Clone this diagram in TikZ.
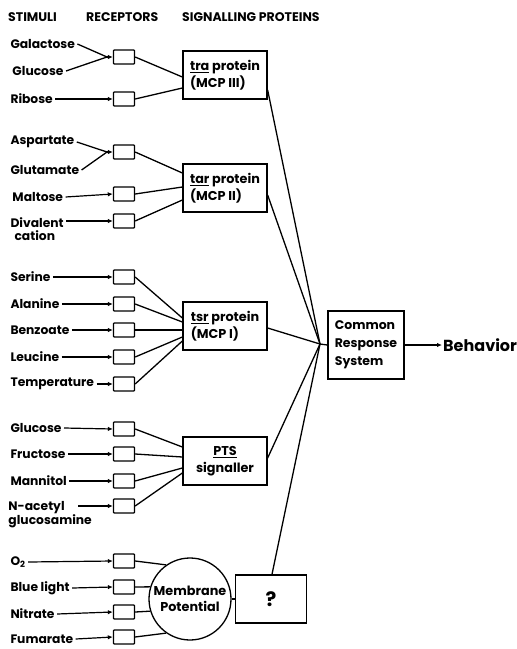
\documentclass[tikz,border=0pt]{standalone}
\usepackage{fontspec}
\setmainfont{Poppins}
\usetikzlibrary{arrows.meta,calc}
\begin{document}
\begin{tikzpicture}[x=1pt,y=-1pt,
  lbl/.style={anchor=west,inner sep=1pt,outer sep=1.5pt,font=\bfseries\fontsize{12.3}{12.3}\selectfont,align=left},
  hdr/.style={anchor=west,inner sep=0pt,font=\bfseries\fontsize{12.5}{12.5}\selectfont},
  rec/.style={draw,line width=1.3pt,minimum width=21pt,minimum height=14pt,inner sep=0pt,rounded corners=0.8pt},
  sig/.style={draw,line width=1.3pt,minimum width=84pt,minimum height=48pt,inner sep=3pt,align=left,font=\bfseries\fontsize{12.8}{16.5}\selectfont},
  arr/.style={line width=1.2pt,-{Latex[length=5pt,width=4.5pt]}},
  ln/.style={line width=1.3pt}]
\useasboundingbox (0,0) rectangle (517,649);
% headers
\node[hdr] (h1) at (8,17) {STIMULI};
\node[hdr] (h2) at (86,17) {RECEPTORS};
\node[hdr] (h3) at (182,17) {SIGNALLING PROTEINS};
% group 1
\node[lbl] (s1) at (8,44) {Galactose};
\node[lbl] (s2) at (10,71) {Glucose};
\node[lbl] (s3) at (8,99) {Ribose};
\node[rec] (r1) at (124,57) {};
\node[rec] (r2) at (124,99) {};
\coordinate (j1) at (107,57);
\node[sig] (tra) at (225,75) {\underline{tra} protein\\(MCP III)};
\draw[ln] (s1.east) -- (j1);
\draw[ln] (s2.east) -- (j1);
\draw[arr] (j1) -- (r1.west);
\draw[arr] (s3.east) -- (r2.west);
\draw[ln] (r1.east) -- ($(tra.west)+(0,2)$);
\draw[ln] (r2.east) -- ($(tra.west)+(0,13)$);
% group 2
\node[lbl] (s4) at (8,142) {Aspartate};
\node[lbl] (s5) at (8,170) {Glutamate};
\node[lbl] (s6) at (10,197) {Maltose};
\node[lbl] (s7) at (8,229) {Divalent\\\hspace*{4pt}cation};
\node[rec] (r3) at (124,152) {};
\node[rec] (r4) at (124,194) {};
\node[rec] (r5) at (124,221) {};
\coordinate (j2) at (107,152);
\node[sig] (tar) at (225,188) {\underline{tar} protein\\(MCP II)};
\draw[ln] (s4.east) -- (j2);
\draw[ln] (s5.east) -- (j2);
\draw[arr] (j2) -- (r3.west);
\draw[arr] (s6.east) -- (r4.west);
\draw[arr] (s7.east |- r5.west) -- (r5.west);
\draw[ln] (r3.east) -- ($(tar.west)+(0,-15)$);
\draw[ln] (r4.east) -- ($(tar.west)+(0,-1)$);
\draw[ln] (r5.east) -- ($(tar.west)+(0,12)$);
% group 3
\node[lbl] (s8) at (8,277) {Serine};
\node[lbl] (s9) at (8,304) {Alanine};
\node[lbl] (s10) at (8,330) {Benzoate};
\node[lbl] (s11) at (8,357) {Leucine};
\node[lbl] (s12) at (8,384) {Temperature};
\node[rec] (r6) at (124,277) {};
\node[rec] (r7) at (124,304) {};
\node[rec] (r8) at (124,330) {};
\node[rec] (r9) at (124,357) {};
\node[rec] (r10) at (124,384) {};
\node[sig] (tsr) at (225,326) {\underline{tsr} protein\\(MCP I)};
\draw[arr] (s8.east) -- (r6.west);
\draw[arr] (s9.east) -- (r7.west);
\draw[arr] (s10.east) -- (r8.west);
\draw[arr] (s11.east) -- (r9.west);
\draw[arr] (s12.east) -- (r10.west);
\draw[ln] (r6.east) -- ($(tsr.west)+(0,-8)$);
\draw[ln] (r7.east) -- ($(tsr.west)+(0,-4)$);
\draw[ln] (r8.east) -- ($(tsr.west)+(0,4)$);
\draw[ln] (r9.east) -- ($(tsr.west)+(0,11)$);
\draw[ln] (r10.east) -- ($(tsr.west)+(0,15)$);
% group 4
\node[lbl] (s13) at (8,428) {Glucose};
\node[lbl] (s14) at (8,454) {Fructose};
\node[lbl] (s15) at (8,481) {Mannitol};
\node[lbl] (s16) at (6,515) {N-acetyl\\glucosamine};
\node[rec] (r11) at (124,429) {};
\node[rec] (r12) at (124,454) {};
\node[rec] (r13) at (124,481) {};
\node[rec] (r14) at (124,506) {};
\node[sig,align=center] (pts) at (225,461) {\underline{PTS}\\signaller};
\draw[arr] (s13.east) -- (r11.west);
\draw[arr] (s14.east) -- (r12.west);
\draw[arr] (s15.east) -- (r13.west);
\draw[arr] (78,506) -- (r14.west);
\draw[ln] (r11.east) -- ($(pts.west)+(0,-14)$);
\draw[ln] (r12.east) -- ($(pts.west)+(0,-4)$);
\draw[ln] (r13.east) -- ($(pts.west)+(0,7)$);
\draw[ln] (r14.east) -- ($(pts.west)+(0,12)$);
% group 5
\node[lbl] (s17) at (8,562) {O$_\mathbf{2}$};
\node[lbl] (s18) at (8,588) {Blue light};
\node[lbl] (s19) at (8,614) {Nitrate};
\node[lbl] (s20) at (8,639) {Fumarate};
\node[rec] (r15) at (124,561) {};
\node[rec] (r16) at (124,587) {};
\node[rec] (r17) at (124,612) {};
\node[rec] (r18) at (124,637) {};
\node[draw,circle,line width=1.3pt,minimum size=82pt,inner sep=0pt,align=center,font=\bfseries\fontsize{12.8}{16}\selectfont] (mp) at (190,599) {Membrane\\Potential};
\node[draw,line width=1.4pt,minimum width=71pt,minimum height=48pt,font=\bfseries\fontsize{20}{20}\selectfont] (q) at (271,599) {?};
\draw[arr] (s17.east) -- (r15.west);
\draw[arr] (s18.east) -- (r16.west);
\draw[arr] (s19.east) -- (r17.west);
\draw[arr] (s20.east) -- (r18.west);
\draw[ln] (r15.east) -- (mp.125);
\draw[ln] (r16.east) -- (mp.163);
\draw[ln] (r17.east) -- (mp.197);
\draw[ln] (r18.east) -- (mp.235);
\draw[ln] (mp.east) -- (q.west);
% common response
\coordinate (J) at (320,344);
\node[draw,line width=1.4pt,minimum width=76pt,minimum height=68pt,align=left,font=\bfseries\fontsize{12.5}{18}\selectfont] (crs) at (366,345) {Common\\Response\\System};
\node[anchor=west,inner sep=1pt,font=\bfseries\fontsize{16}{16}\selectfont] (beh) at (442,345) {Behavior};
\draw[ln] ($(tra.east)+(0,15)$) -- (J);
\draw[ln] ($(tar.east)+(0,7)$) -- (J);
\draw[ln] ($(tsr.east)+(0,2)$) -- (J);
\draw[ln] ($(pts.east)+(0,-3)$) -- (J);
\draw[ln] ($(q.north)+(1,0)$) -- (J);
\draw[ln] (J) -- (crs.west);
\draw[arr] (crs.east) -- (beh.west);
\end{tikzpicture}
\end{document}
